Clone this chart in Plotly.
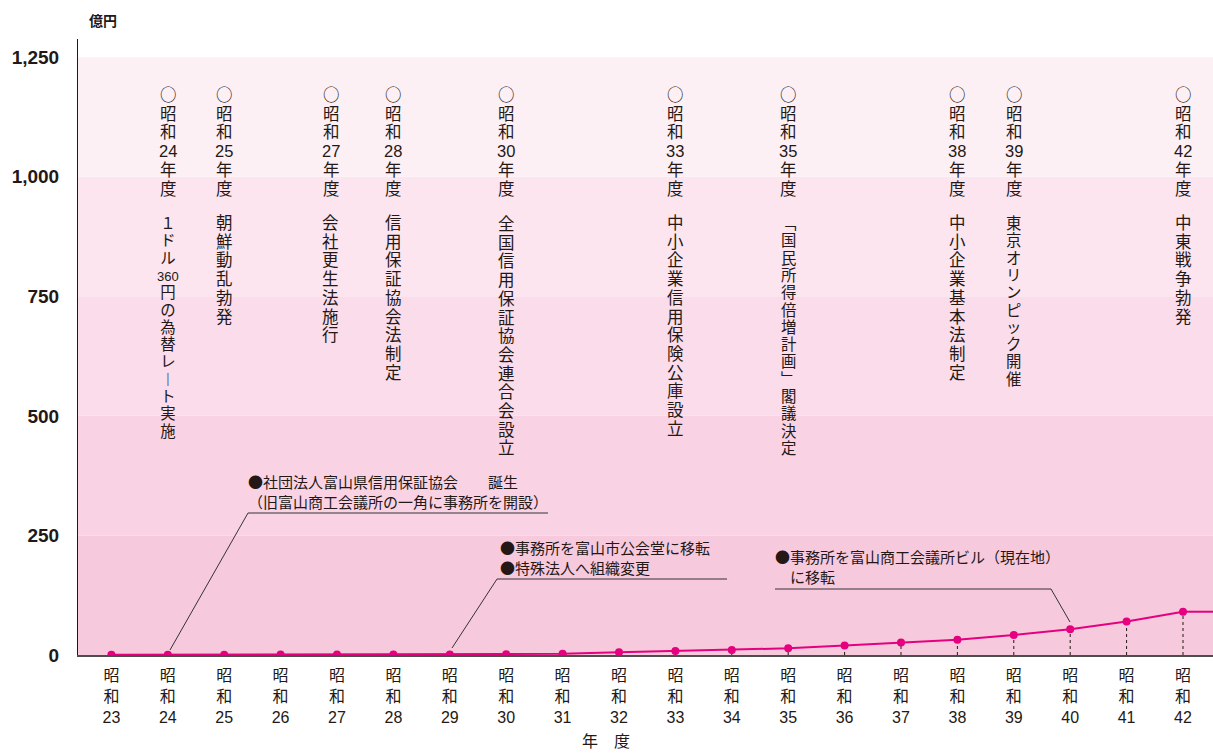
import plotly.graph_objects as go

# ---------------- data ----------------
years = list(range(23, 43))
guarantee = [0.5, 0.6, 0.7, 0.8, 0.9, 1.0, 1.2, 1.5, 2.5, 6.0,
             8.5, 10.5, 14.0, 20.0, 26.0, 32.0, 42.0, 54.0, 70.0, 90.5]
x_tick_labels = [f"昭<br>和<br>{y}" for y in years]

y_tick_vals = [0, 250, 500, 750, 1000, 1250]
y_tick_text = ["0", "250", "500", "750", "1,000", "1,250"]

event_years = [24, 25, 27, 28, 30, 33, 35, 38, 39, 42]
event_texts = [
    "１ドル360円の為替レート実施",
    "朝鮮動乱勃発",
    "会社更生法施行",
    "信用保証協会法制定",
    "全国信用保証協会連合会設立",
    "中小企業信用保険公庫設立",
    "「国民所得倍増計画」閣議決定",
    "中小企業基本法制定",
    "東京オリンピック開催",
    "中東戦争勃発",
]

callout_texts = [
    "●社団法人富山県信用保証協会　　誕生<br>（旧富山商工会議所の一角に事務所を開設）",
    "●事務所を富山市公会堂に移転<br>●特殊法人へ組織変更",
    "●事務所を富山商工会議所ビル（現在地）<br>　に移転",
]
callout_years = [24, 29, 40]

band_edges = [0, 250, 500, 750, 1000, 1250]
band_colors = ["#f7c9dd", "#f9d3e4", "#fadcea", "#fce5ef", "#fdf0f5"]

# ---------------- layout constants ----------------
W, H = 1213, 753
ML, MR, MT, MB = 78, 0, 39, 98
PW, PH = W - ML - MR, H - MT - MB
XR = [22.408, 42.532]
YR = [0, 1288]

LINE_COLOR = "#e4007f"
TEXT_COLOR = "#231815"
JP = "Noto Sans CJK JP"
NUMJP = "Liberation Sans, Noto Sans CJK JP"


def px_x(px):
    return XR[0] + (px - ML) / PW * (XR[1] - XR[0])


def px_y(py):
    return YR[0] + (MT + PH - py) / PH * (YR[1] - YR[0])


def paper_x(px):
    return (px - ML) / PW


def paper_y(py):
    return (MT + PH - py) / PH


fig = go.Figure()

# dotted drop lines
dx, dy = [], []
for yr, v in zip(years, guarantee):
    dx += [yr, yr, None]
    dy += [0, v, None]
fig.add_trace(go.Scatter(x=dx, y=dy, mode="lines",
                         line=dict(color=TEXT_COLOR, width=1, dash="dot"),
                         hoverinfo="skip", showlegend=False))

# flat continuation to the right edge
fig.add_trace(go.Scatter(x=[years[-1], XR[1]], y=[guarantee[-1], guarantee[-1]],
                         mode="lines", line=dict(color=LINE_COLOR, width=2),
                         hoverinfo="skip", showlegend=False))

# main series
fig.add_trace(go.Scatter(x=years, y=guarantee, mode="lines+markers",
                         line=dict(color=LINE_COLOR, width=2),
                         marker=dict(color=LINE_COLOR, size=8),
                         showlegend=False))

shapes = []
for i, c in enumerate(band_colors):
    shapes.append(dict(type="rect", xref="paper", x0=0, x1=1, yref="y",
                       y0=band_edges[i], y1=band_edges[i + 1],
                       fillcolor=c, line=dict(width=0), layer="below"))

# callout leader lines (pixel geometry -> data coords)
leaders = [
    [(548, 513), (248, 513), (170, 650)],
    [(727, 579), (497, 579), (452, 648)],
    [(775, 589), (1051, 589), (1070, 622)],
]
for pts in leaders:
    path = "M " + " L ".join(f"{px_x(a)},{px_y(b)}" for a, b in pts)
    shapes.append(dict(type="path", xref="x", yref="y", path=path,
                       line=dict(color="#333333", width=1)))

annotations = []

# callout texts
callout_pos = [(246, 491.7), (498, 557), (773, 566.5)]
for txt, (lx, cy) in zip(callout_texts, callout_pos):
    annotations.append(dict(text=txt, xref="x", yref="y", x=px_x(lx), y=px_y(cy),
                            xanchor="left", yanchor="middle", align="left",
                            showarrow=False,
                            font=dict(family=JP, size=15, color=TEXT_COLOR)))

# vertical event columns: one multi-line text per block; glyph size set
# per span, line pitch set by the block's base font size (pitch = 1.3 * size)
VMAP = {"ー": "︱", "「": "﹁", "」": "﹂"}
COL_SHIFT = {27: -6}


def tokens(s):
    out, i = [], 0
    while i < len(s):
        if s[i] in "0123456789":
            j = i
            while j < len(s) and s[j] in "0123456789":
                j += 1
            out.append(s[i:j])
            i = j
        else:
            out.append(VMAP.get(s[i], s[i]))
            i += 1
    return out


def vblock(toks, big):
    parts = []
    for t in toks:
        size = 13 if len(t) >= 3 else big
        if t == "○":
            parts.append(f'<span style="font-family:\'Noto Sans CJK JP\';font-size:{size}px">{t}</span>')
        else:
            parts.append(f'<span style="font-size:{size}px">{t}</span>')
    return "<br>".join(parts)


HEAD_TOP, HEAD_PITCH = 93.3, 18.7
BODY_TOP = 223.3
for yr, txt in zip(event_years, event_texts):
    head = ["○", "昭", "和", str(yr), "年", "度"]
    body = tokens(txt)
    tight = any(("\u30a0" <= ch <= "\u30ff") or ch in "「」" for ch in txt)
    pitch = 17.3 if tight else HEAD_PITCH
    for toks, top, p in ((head, HEAD_TOP, HEAD_PITCH), (body, BODY_TOP, pitch)):
        center = top + (len(toks) - 1) * p / 2
        big = min(16.5, round(p / 1.125, 1))
        annotations.append(dict(text=vblock(toks, big), xref="x", yref="y",
                                x=yr, y=px_y(center), xshift=COL_SHIFT.get(yr, 0),
                                xanchor="center", yanchor="middle", align="center",
                                showarrow=False,
                                font=dict(family=NUMJP, size=p / 1.3, color=TEXT_COLOR)))

# unit + axis title
annotations.append(dict(text="<b>億円</b>", xref="paper", yref="paper",
                        x=paper_x(103), y=paper_y(20), xanchor="center", yanchor="middle",
                        showarrow=False, font=dict(family=JP, size=14, color=TEXT_COLOR)))
annotations.append(dict(text="年　度", xref="paper", yref="paper",
                        x=paper_x(606), y=paper_y(740), xanchor="center", yanchor="middle",
                        showarrow=False, font=dict(family=JP, size=16, color=TEXT_COLOR)))

fig.update_layout(
    width=W, height=H,
    margin=dict(l=ML, r=MR, t=MT, b=MB, pad=0),
    paper_bgcolor="white", plot_bgcolor="white",
    shapes=shapes, annotations=annotations,
    xaxis=dict(range=XR, tickvals=years, ticktext=x_tick_labels,
               showgrid=False, zeroline=False, showline=True,
               linecolor="#4d4d4d", linewidth=1.5, ticks="",
               ticklabelstandoff=5,
               tickfont=dict(family=NUMJP, size=16, color=TEXT_COLOR),
               fixedrange=True),
    yaxis=dict(range=YR, tickvals=y_tick_vals, ticktext=y_tick_text,
               showgrid=False, zeroline=False, showline=True,
               linecolor=TEXT_COLOR, linewidth=1,
               ticks="outside", ticklen=14, tickcolor="rgba(0,0,0,0)",
               tickfont=dict(family="Liberation Sans", size=19, color=TEXT_COLOR, weight="bold"),
               fixedrange=True),
    showlegend=False,
)

fig.write_html("out.html")
